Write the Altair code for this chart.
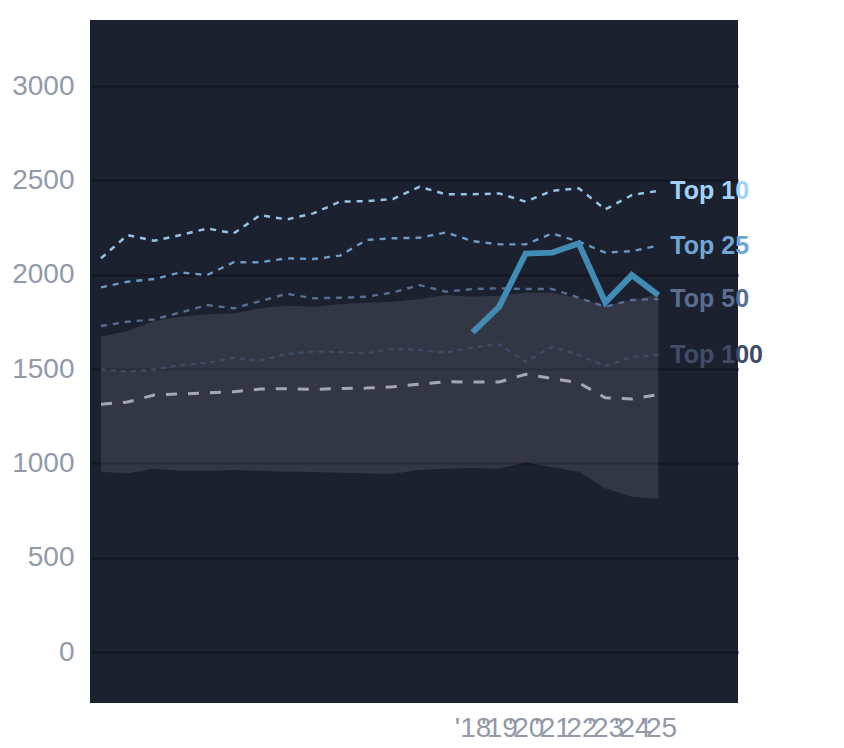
import altair as alt
import pandas as pd

years = list(range(2004, 2026))
top10 = [2087, 2210, 2180, 2210, 2245, 2219, 2316, 2293, 2325, 2387, 2390, 2401, 2466, 2426, 2426, 2431, 2387, 2445, 2458, 2346, 2422, 2445]
top25 = [1933, 1963, 1977, 2012, 1998, 2066, 2066, 2087, 2083, 2101, 2184, 2193, 2196, 2224, 2178, 2161, 2161, 2219, 2175, 2117, 2125, 2154]
top50 = [1728, 1751, 1763, 1800, 1839, 1822, 1860, 1899, 1875, 1878, 1883, 1906, 1945, 1910, 1924, 1928, 1924, 1924, 1878, 1830, 1866, 1871]
top100 = [1498, 1486, 1498, 1521, 1533, 1560, 1544, 1579, 1594, 1590, 1583, 1608, 1601, 1587, 1615, 1631, 1539, 1618, 1574, 1516, 1565, 1574]
median = [1314, 1325, 1362, 1368, 1373, 1380, 1394, 1396, 1392, 1397, 1399, 1406, 1420, 1433, 1431, 1431, 1472, 1450, 1427, 1348, 1341, 1365]
band_hi = [1671, 1701, 1754, 1777, 1790, 1795, 1822, 1836, 1830, 1843, 1851, 1857, 1871, 1892, 1883, 1889, 1905, 1905, 1875, 1836, 1866, 1895]
band_lo = [956, 947, 972, 961, 961, 965, 961, 956, 954, 950, 947, 945, 965, 972, 975, 972, 1005, 979, 956, 868, 823, 811]
hl_years = list(range(2018, 2026))
highlight = [1694, 1830, 2112, 2117, 2166, 1853, 1998, 1892]

label_names = ["Top 10", "Top 25", "Top 50", "Top 100"]
label_colors = ["#a3d2f7", "#70a6d3", "#5a6f90", "#414d66"]
y_ticks = [0, 500, 1000, 1500, 2000, 2500, 3000]
x_ticks = list(range(2018, 2026))

FONT = "Liberation Sans"

df = pd.DataFrame({
    "year": years, "top10": top10, "top25": top25, "top50": top50,
    "top100": top100, "median": median, "hi": band_hi, "lo": band_lo,
})
hl = pd.DataFrame({"year": hl_years, "v": highlight})
labels = pd.DataFrame({
    "year": [years[-1]] * 4,
    "v": [top10[-1], top25[-1], top50[-1], top100[-1]],
    "name": label_names,
})

xs = alt.Scale(domain=[2003.586, 2028.0], nice=False, zero=False)
ys = alt.Scale(domain=[-270, 3350], nice=False, zero=False)

xax = alt.Axis(values=x_ticks, title=None, grid=False, domain=False, ticks=False,
               labelExpr='"\'" + substring(toString(datum.value), 2)',
               labelOverlap=False, labelFlush=False, labelPadding=11,
               labelFontSize=28, labelColor="#9299a7", labelFont=FONT)
yax = alt.Axis(values=y_ticks, title=None, grid=True, gridColor="#141824", gridWidth=2.5,
               domain=False, ticks=False, labelPadding=16, labelFlush=False, format="d",
               labelFontSize=28, labelColor="#9299a7", labelFont=FONT)

base = alt.Chart(df)
X = alt.X("year:Q", scale=xs, axis=xax)

band = base.mark_area(color="#ffffff", opacity=0.1).encode(
    x=X, y=alt.Y("hi:Q", scale=ys, axis=yax), y2="lo:Q")

def line(field, color, dash, width):
    return base.mark_line(color=color, strokeDash=dash, strokeWidth=width).encode(
        x=alt.X("year:Q", scale=xs), y=alt.Y(f"{field}:Q", scale=ys))

l_med = line("median", "#a4a8b2", [11, 11], 3)
l100 = line("top100", "#3f4c67", [5, 5], 2.2)
l50 = line("top50", "#566e92", [6, 6], 2.4)
l25 = line("top25", "#6b9cc7", [6, 6], 2.4)
l10 = line("top10", "#94c4e6", [6, 6], 2.5)

l_hl = alt.Chart(hl).mark_line(color="#428bb4", strokeWidth=6).encode(
    x=alt.X("year:Q", scale=xs), y=alt.Y("v:Q", scale=ys))

txt = alt.Chart(labels).mark_text(align="left", baseline="middle", dx=12,
                                  fontSize=25, fontWeight="bold", font=FONT).encode(
    x=alt.X("year:Q", scale=xs), y=alt.Y("v:Q", scale=ys),
    text="name:N",
    color=alt.Color("name:N", scale=alt.Scale(domain=label_names, range=label_colors), legend=None),
)

chart = alt.layer(band, l_med, l100, l50, l25, l10, l_hl, txt).properties(
    width=648, height=683,
    padding={"left": 3, "top": 12, "right": 5, "bottom": 0},
    background="#ffffff",
).configure_view(fill="#1c2130", stroke=None)

chart.save("out.html", embed_options={"renderer": "svg", "actions": False})
